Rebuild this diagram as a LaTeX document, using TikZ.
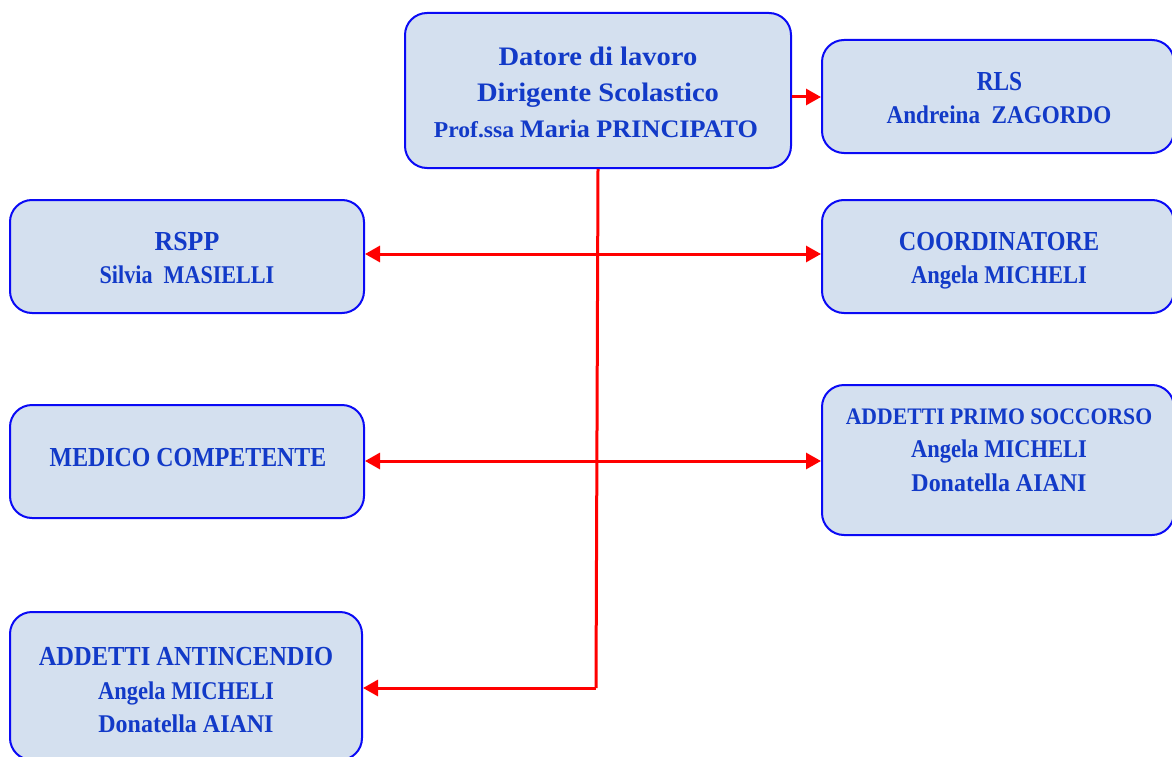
\documentclass[tikz,border=0pt]{standalone}
\usepackage{fontspec}
\usepackage{graphicx}
\setmainfont{Liberation Serif}
\usetikzlibrary{arrows.meta}
\definecolor{boxfill}{RGB}{212,224,239}
\definecolor{boxline}{RGB}{10,10,245}
\definecolor{txtblue}{RGB}{18,58,200}
\definecolor{arrred}{RGB}{255,0,0}
\newcommand{\linetxt}[3]{\scalebox{#1}[1]{\fontsize{#2}{#2}\selectfont #3}}
\begin{document}
\begin{tikzpicture}[x=1pt,y=-1pt,
  orgbox/.style={draw=boxline,fill=boxfill,line width=2pt,rounded corners=22pt,inner sep=0pt},
  txt/.style={anchor=base,inner sep=0pt,text=txtblue,font=\bfseries},
  link/.style={draw=arrred,line width=3pt},
  tip/.style={-{Triangle[length=15pt,width=16pt]}},
  both/.style={{Triangle[length=15pt,width=16pt]}-{Triangle[length=15pt,width=16pt]}}]
\useasboundingbox (0,0) rectangle (1172,757);
% boxes
\node[orgbox,minimum width=386pt,minimum height=155pt] (top) at (598,90.5) {};
\node[orgbox,minimum width=352pt,minimum height=113pt] (rls) at (998,96.5) {};
\node[orgbox,minimum width=354pt,minimum height=113pt] (rspp) at (187,256.5) {};
\node[orgbox,minimum width=352pt,minimum height=113pt] (coord) at (998,256.5) {};
\node[orgbox,minimum width=354pt,minimum height=113pt] (medico) at (187,461.5) {};
\node[orgbox,minimum width=352pt,minimum height=150pt] (socc) at (998,460) {};
\node[orgbox,minimum width=352pt,minimum height=148pt] (antinc) at (186,686) {};
% texts
\node[txt] (top1) at (598,66) {\linetxt{1.07}{26.7}{Datore di lavoro}};
\node[txt] (top2) at (598,101.7) {\linetxt{1.07}{26.7}{Dirigente Scolastico}};
\node[txt] (top3) at (596,138) {\scalebox{1.04}[1]{\fontsize{22.7}{24}\selectfont Prof.ssa \fontsize{25.2}{26}\selectfont Maria PRINCIPATO}};
\node[txt] (rls1) at (999.5,91) {\linetxt{0.85}{27.5}{RLS}};
\node[txt] (rls2) at (999,123.3) {\linetxt{0.908}{25.5}{Andreina\ \ ZAGORDO}};
\node[txt] (rspp1) at (187,250.7) {\linetxt{0.94}{27.5}{RSPP}};
\node[txt] (rspp2) at (187,283.3) {\linetxt{0.868}{25.5}{Silvia\ \ MASIELLI}};
\node[txt] (coord1) at (999,250.7) {\linetxt{0.878}{27.5}{COORDINATORE}};
\node[txt] (coord2) at (999,283.3) {\linetxt{0.883}{25.5}{Angela MICHELI}};
\node[txt] (medico1) at (188,466) {\linetxt{0.868}{27.5}{MEDICO COMPETENTE}};
\node[txt] (socc1) at (999,424) {\linetxt{0.916}{23.7}{ADDETTI PRIMO SOCCORSO}};
\node[txt] (socc2) at (999,457.7) {\linetxt{0.883}{25.5}{Angela MICHELI}};
\node[txt] (socc3) at (999,491) {\linetxt{0.94}{25.5}{Donatella AIANI}};
\node[txt] (ant1) at (186,665) {\linetxt{0.89}{27.5}{ADDETTI ANTINCENDIO}};
\node[txt] (ant2) at (186,699.3) {\linetxt{0.883}{25.5}{Angela MICHELI}};
\node[txt] (ant3) at (186,732.7) {\linetxt{0.94}{25.5}{Donatella AIANI}};
% connectors
\coordinate (corner) at (596,688);
\draw[link,tip] (top.east |- 0,97) -- (rls.west |- 0,97);
\draw[link] (top.south) -- (corner);
\draw[link,tip] (corner) -- (antinc.east |- corner);
\draw[link,both] (rspp.east |- 0,254) -- (coord.west |- 0,254);
\draw[link,both] (medico.east |- 0,461) -- (socc.west |- 0,461);
\end{tikzpicture}
\end{document}
